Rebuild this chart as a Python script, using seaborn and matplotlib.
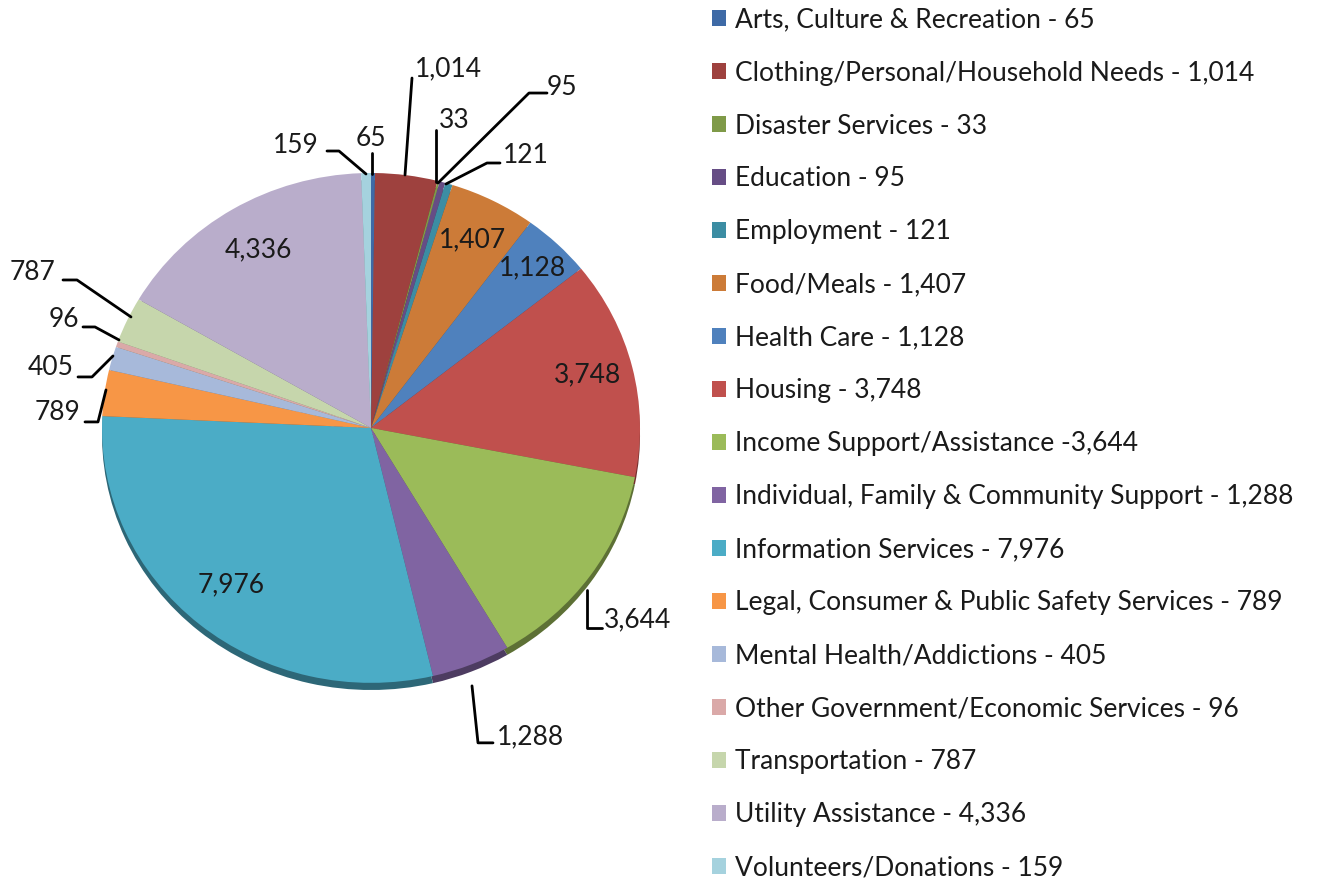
import numpy as np
import matplotlib.pyplot as plt
import seaborn as sns

categorias = ['Arts, Culture & Recreation', 'Clothing/Personal/Household Needs', 'Disaster Services',
              'Education', 'Employment', 'Food/Meals', 'Health Care', 'Housing',
              'Income Support/Assistance', 'Individual, Family & Community Support',
              'Information Services', 'Legal, Consumer & Public Safety Services',
              'Mental Health/Addictions', 'Other Government/Economic Services',
              'Transportation', 'Utility Assistance', 'Volunteers/Donations']
valores = [65, 1014, 33, 95, 121, 1407, 1128, 3748, 3644, 1288, 7976, 789, 405, 96, 787, 4336, 159]
legenda = ['Arts, Culture & Recreation - 65', 'Clothing/Personal/Household Needs - 1,014',
           'Disaster Services - 33', 'Education - 95', 'Employment - 121', 'Food/Meals - 1,407',
           'Health Care - 1,128', 'Housing - 3,748', 'Income Support/Assistance -3,644',
           'Individual, Family & Community Support - 1,288', 'Information Services - 7,976',
           'Legal, Consumer & Public Safety Services - 789', 'Mental Health/Addictions - 405',
           'Other Government/Economic Services - 96', 'Transportation - 787',
           'Utility Assistance - 4,336', 'Volunteers/Donations - 159']
cores = ['#3E6AA6', '#9E413E', '#7F9A48', '#664D85', '#3C8DA3', '#CC7B38', '#4F81BD', '#C0504D',
         '#9BBB59', '#8064A2', '#4BACC6', '#F79646', '#A7B9DA', '#DAA9A8', '#C6D6AC', '#B9ADCB', '#A5D2DE']

sns.set_theme(style='white')
plt.rcParams['font.family'] = ['Lato', 'DejaVu Sans']
paleta = sns.color_palette(cores)
escura = [tuple(c * 0.6 for c in cor) for cor in paleta]

fig = plt.figure(figsize=(13.22, 8.84), dpi=100)
ax = fig.add_axes([102 / 1322, 1 - 690 / 884, 538 / 1322, 517 / 884])

# sombra (efeito 3D)
ax.pie(valores, colors=escura, startangle=90, counterclock=False, center=(0, -0.028),
       wedgeprops=dict(linewidth=0))
wedges, _ = ax.pie(valores, colors=paleta, startangle=90, counterclock=False,
                   wedgeprops=dict(linewidth=0))
ax.set_xlim(-1.0, 1.0)
ax.set_ylim(-1.028, 1.0)
ax.set_aspect('auto')
ax.axis('off')

def px(x, y):
    # pixel -> coordenadas do eixo de dados
    return ((x - 371) / 269, (428 - y) / 255)

fs = 19
cor_texto = '#1a1a1a'
# rótulos internos
internos = {5: (472, 240), 6: (532, 268), 7: (588, 375), 10: (231, 585), 15: (258, 250)}
for i, (x, y) in internos.items():
    ax.text(*px(x, y), f'{valores[i]:,}', ha='center', va='center', fontsize=fs, color=cor_texto)

# rótulos externos: posição do texto, pontos da linha
externos = {
    0: ((371, 138), 'center', [(372, 153), (372, 174)]),
    16: ((319, 145), 'right', [(327, 151), (339, 151), (366, 174)]),
    1: ((415, 69), 'left', [(412, 78), (405, 175)]),
    2: ((439, 120), 'left', [(436, 130), (436, 182)]),
    3: ((547, 87), 'left', [(547, 93), (529, 93), (438, 183)]),
    4: ((503, 155), 'left', [(500, 163), (487, 163), (446, 184)]),
    8: ((604, 620), 'left', [(602, 628), (587, 628), (587, 590)]),
    9: ((497, 737), 'left', [(493, 743), (478, 743), (472, 686)]),
    11: ((80, 413), 'right', [(85, 422), (98, 422), (106, 390)]),
    12: ((74, 368), 'right', [(78, 377), (92, 377), (113, 356)]),
    13: ((79, 320), 'right', [(83, 327), (95, 327), (119, 340)]),
    14: ((55, 273), 'right', [(63, 280), (77, 280), (131, 317)]),
}
for i, ((x, y), ha, linha) in externos.items():
    ax.text(*px(x, y), f'{valores[i]:,}', ha=ha, va='center', fontsize=fs, color=cor_texto)
    pts = np.array([px(a, b) for a, b in linha])
    ax.plot(pts[:, 0], pts[:, 1], color='black', lw=2, clip_on=False)

fig.legend(wedges, legenda, loc='upper left', bbox_to_anchor=(701 / 1322, 1 + 3 / 884),
           frameon=False, fontsize=fs, handlelength=0.55, handleheight=0.55, handletextpad=0.35,
           labelspacing=1.06, borderaxespad=0, labelcolor=cor_texto)

plt.savefig('out.png', dpi=100)
